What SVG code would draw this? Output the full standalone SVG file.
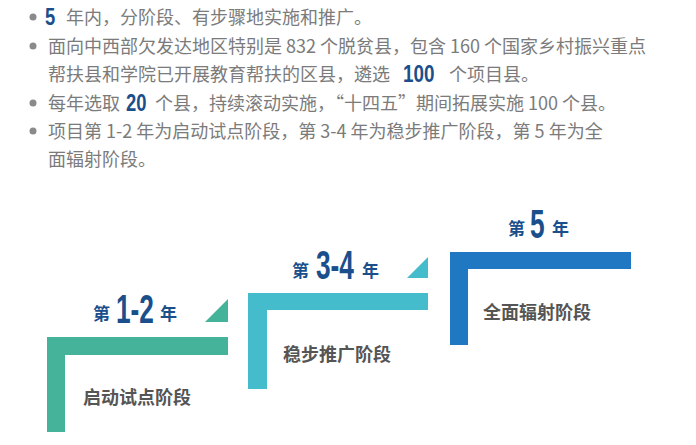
<svg xmlns="http://www.w3.org/2000/svg" width="696" height="445" viewBox="0 0 696 445">
<style>
.t{font-family:"Noto Sans CJK SC","Noto Sans",sans-serif;font-size:18px;fill:#7b7b7b}
.n{font-family:"Liberation Sans","Noto Sans CJK SC",sans-serif;font-weight:bold;font-size:23px;fill:#1a4f8c}
.big{font-family:"Liberation Sans","Noto Sans CJK SC",sans-serif;font-weight:bold;font-size:41px;fill:#1a4f8c}
.sm{font-family:"Noto Sans CJK SC",sans-serif;font-weight:bold;font-size:17px;fill:#1a4f8c}
.lab{font-family:"Noto Sans CJK SC",sans-serif;font-weight:bold;font-size:18px;fill:#555}
.dot{fill:#8a8a8a}
</style>
<rect width="696" height="445" fill="#fff"/>
<g id="bullets">
<circle class="dot" cx="33" cy="17" r="3.5"/>
<circle class="dot" cx="33" cy="46" r="3.5"/>
<circle class="dot" cx="33" cy="103" r="3.5"/>
<circle class="dot" cx="33" cy="131" r="3.5"/>
<text class="n" transform="translate(45,25) scale(0.8,1)">5</text>
<text class="t" x="66" y="24">年内，分阶段、有步骤地实施和推广。</text>
<text class="t" x="48" y="53">面向中西部欠发达地区特别是 832 个脱贫县，包含 160 个国家乡村振兴重点</text>
<text class="t" x="48" y="81">帮扶县和学院已开展教育帮扶的区县，遴选</text>
<text class="n" transform="translate(403,82) scale(0.82,1)">100</text>
<text class="t" x="449" y="81">个项目县。</text>
<text class="t" x="48" y="110">每年选取</text>
<text class="n" transform="translate(126,111) scale(0.8,1)">20</text>
<text class="t" x="155" y="110">个县，持续滚动实施，“十四五”期间拓展实施 100 个县。</text>
<text class="t" x="48" y="138">项目第 1-2 年为启动试点阶段，第 3-4 年为稳步推广阶段，第 5 年为全</text>
<text class="t" x="48" y="166">面辐射阶段。</text>
</g>
<g id="stage1">
<path d="M47 337H228V355H65V432H47Z" fill="#45b39a"/>
<path d="M205 322L228 299V322Z" fill="#45b39a"/>
<text class="sm" x="93" y="320">第</text>
<text class="big" transform="translate(116,323) scale(0.64,1)">1-2</text>
<text class="sm" x="160" y="320">年</text>
<text class="lab" x="83" y="404">启动试点阶段</text>
</g>
<g id="stage2">
<path d="M248 293H428V310H267V389H248Z" fill="#45bccb"/>
<path d="M407 278L428 257V278Z" fill="#45bccb"/>
<text class="sm" x="292" y="277">第</text>
<text class="big" transform="translate(316,279) scale(0.64,1)">3-4</text>
<text class="sm" x="362" y="277">年</text>
<text class="lab" x="283" y="361">稳步推广阶段</text>
</g>
<g id="stage3">
<path d="M450 252H631V269H468V345H450Z" fill="#1f78c1"/>
<text class="sm" x="508" y="235">第</text>
<text class="big" transform="translate(530,238) scale(0.64,1)">5</text>
<text class="sm" x="552" y="235">年</text>
<text class="lab" x="483" y="319">全面辐射阶段</text>
</g>
</svg>
